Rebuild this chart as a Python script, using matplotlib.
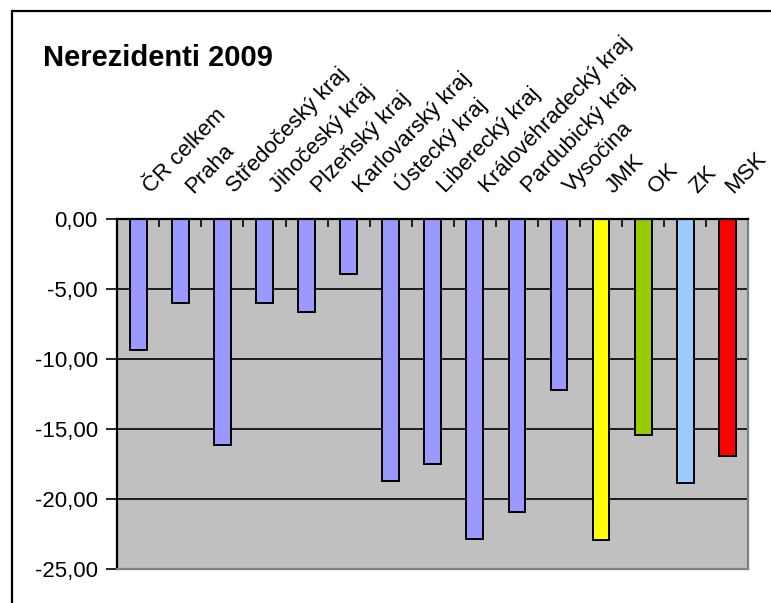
import matplotlib
matplotlib.use("Agg")
import matplotlib.pyplot as plt
from matplotlib.patches import Rectangle
from matplotlib.ticker import FuncFormatter, FixedLocator
import matplotlib.transforms as mtransforms

plt.rcParams['font.family'] = ['Liberation Sans', 'DejaVu Sans']

categories = ["ČR celkem", "Praha", "Středočeský kraj", "Jihočeský kraj", "Plzeňský kraj",
              "Karlovarský kraj", "Ústecký kraj", "Liberecký kraj", "Královéhradecký kraj",
              "Pardubický kraj", "Vysočina", "JMK", "OK", "ZK", "MSK"]
values = [-9.3, -6.0, -16.1, -6.0, -6.65, -3.9, -18.7, -17.5, -22.8, -20.9, -12.2,
          -22.9, -15.4, -18.8, -16.9]
colors = ["#9999FF"] * 11 + ["#FFFF00", "#99CC00", "#99CCFF", "#FF0000"]
yticks = [0, -5, -10, -15, -20, -25]
title = "Nerezidenti 2009"

fig = plt.figure(figsize=(7.71, 6.03), dpi=100)
fig.patch.set_facecolor("white")

# outer chart border
fig.patches.append(Rectangle((12/771, -0.1), 1.2, (592/603) + 0.1, transform=fig.transFigure,
                             fill=False, edgecolor="black", linewidth=1.6, zorder=0))

ax = fig.add_axes([117.3/771, 33.7/603, 631/771, 350/603])
ax.set_facecolor("#C0C0C0")
n = len(categories)
x = list(range(n))
ax.bar(x, values, width=0.4, color=colors, edgecolor="black", linewidth=1.4, zorder=3)
ax.set_xlim(-0.5, n - 0.5)
ax.set_ylim(-25, 0)

ax.yaxis.set_major_locator(FixedLocator(yticks))
ax.yaxis.set_major_formatter(FuncFormatter(lambda v, p: f"{v:.2f}".replace(".", ",").replace("-0,00", "0,00")))
ax.grid(axis="y", color="black", linewidth=1.2, zorder=1)
ax.tick_params(axis="y", direction="out", length=8, width=1.2, labelsize=16, pad=6, colors="black")

ax.xaxis.set_major_locator(FixedLocator([i + 0.5 for i in range(n)]))
ax.tick_params(axis="x", direction="in", length=6, width=1.2, top=True, bottom=False,
               labeltop=False, labelbottom=False)

for s in ["left", "top"]:
    ax.spines[s].set_color("black")
    ax.spines[s].set_linewidth(1.6)
for s in ["right", "bottom"]:
    ax.spines[s].set_color("#808080")
    ax.spines[s].set_linewidth(1.6)
ax.spines["top"].set_zorder(5)

trans = mtransforms.blended_transform_factory(ax.transData, ax.transAxes)
for i, lab in enumerate(categories):
    dx = 16 if i < n - 1 else 9
    offset = mtransforms.ScaledTranslation(dx/100, 22/100, fig.dpi_scale_trans)
    ax.text(i, 1.0, lab, transform=trans + offset, rotation=46, rotation_mode="anchor",
            ha="left", va="bottom", fontsize=16, color="black")

fig.text(43/771, 1 - 66/603, title, fontsize=21, fontweight="bold", ha="left", va="baseline")

fig.savefig("out.png", dpi=100)
